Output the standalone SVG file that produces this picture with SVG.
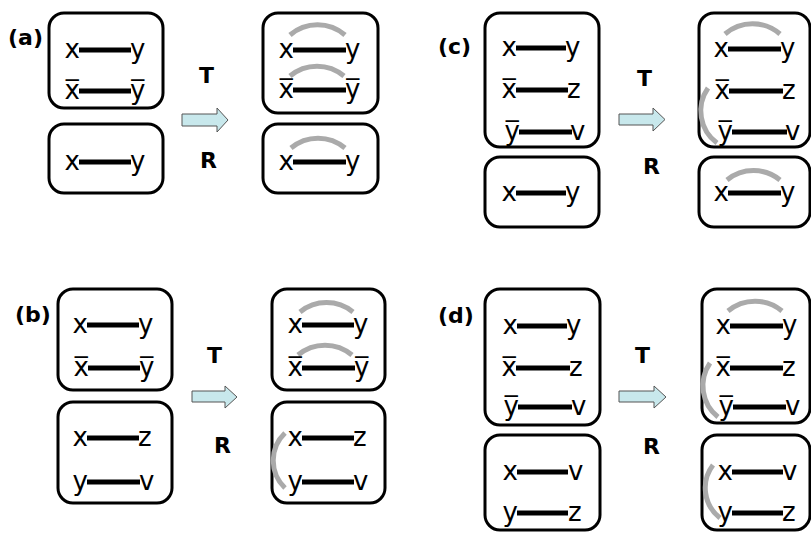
<svg xmlns="http://www.w3.org/2000/svg" width="811" height="533" viewBox="0 0 811 533">
<style>
.box{fill:none;stroke:#000;stroke-width:3}
.bd{stroke:#000;stroke-width:5}
.arc{fill:none;stroke:#aaa;stroke-width:5}
text{font-family:"DejaVu Sans",Verdana,sans-serif}
.t{font-size:26px}
.l{text-anchor:end}
.lab{font-size:22px;font-weight:bold}
.op{font-size:22px;font-weight:bold}
.arrow{fill:#c8e8ec;stroke:#555;stroke-width:1}
</style>
<rect width="811" height="533" fill="#fff"/>
<g id="labels">
<text class="lab" x="8" y="45">(a)</text>
<text class="lab" x="438" y="54">(c)</text>
<text class="lab" x="15" y="322">(b)</text>
<text class="lab" x="438" y="323">(d)</text>
<text class="op" x="199" y="83">T</text>
<text class="op" x="200" y="168">R</text>
<text class="op" x="637" y="86">T</text>
<text class="op" x="643" y="174">R</text>
<text class="op" x="207" y="363">T</text>
<text class="op" x="214" y="453">R</text>
<text class="op" x="635" y="363">T</text>
<text class="op" x="643" y="454">R</text>
</g>
<g id="connectors">
<polygon class="arrow" points="182,114 217,114 217,108 228,120 217,132 217,126 182,126"/>
<polygon class="arrow" points="619,114 653,114 653,108 665,119.5 653,131 653,125 619,125"/>
<polygon class="arrow" points="192,391 225,391 225,386 237,397 225,408 225,402 192,402"/>
<polygon class="arrow" points="619,391 654,391 654,386 666,397 654,408 654,402 619,402"/>
</g>
<g id="a1">
<rect class="box" x="49" y="13" width="114" height="95" rx="15"/>
<text class="t l" x="80" y="58">x</text><line class="bd" x1="79" y1="50" x2="131" y2="50"/><text class="t" x="130" y="58">y</text>
<text class="t l" x="80" y="99">x̅</text><line class="bd" x1="79" y1="91" x2="131" y2="91"/><text class="t" x="130" y="99">y̅</text>
</g>
<g id="a2">
<rect class="box" x="49" y="124" width="114" height="69" rx="15"/>
<text class="t l" x="80" y="170">x</text><line class="bd" x1="79" y1="162" x2="131" y2="162"/><text class="t" x="130" y="170">y</text>
</g>
<g id="a3">
<rect class="box" x="263" y="13" width="115" height="100" rx="15"/>
<path class="arc" d="M290,35 A42,42 0 0 1 345,35"/>
<path class="arc" d="M290,76 A42,42 0 0 1 344,76"/>
<text class="t l" x="294" y="58">x</text><line class="bd" x1="293" y1="50" x2="346" y2="50"/><text class="t" x="345" y="58">y</text>
<text class="t l" x="294" y="98">x̅</text><line class="bd" x1="293" y1="90" x2="346" y2="90"/><text class="t" x="345" y="98">y̅</text>
</g>
<g id="a4">
<rect class="box" x="263" y="124" width="115" height="69" rx="15"/>
<path class="arc" d="M291,148 A42,42 0 0 1 345,148"/>
<text class="t l" x="294" y="170">x</text><line class="bd" x1="293" y1="162" x2="346" y2="162"/><text class="t" x="345" y="170">y</text>
</g>
<g id="c1">
<rect class="box" x="485" y="13" width="114" height="134" rx="15"/>
<text class="t l" x="517" y="56">x</text><line class="bd" x1="516" y1="48" x2="566" y2="48"/><text class="t" x="565" y="56">y</text>
<text class="t l" x="517" y="98">x̅</text><line class="bd" x1="516" y1="90" x2="568" y2="90"/><text class="t" x="567" y="98">z</text>
<text class="t l" x="520" y="140">y̅</text><line class="bd" x1="519" y1="132" x2="572" y2="132"/><text class="t" x="570" y="140">v</text>
</g>
<g id="c2">
<rect class="box" x="485" y="157" width="114" height="70" rx="15"/>
<text class="t l" x="517" y="201">x</text><line class="bd" x1="516" y1="193" x2="566" y2="193"/><text class="t" x="565" y="201">y</text>
</g>
<g id="c3">
<rect class="box" x="699" y="13" width="111" height="134" rx="15"/>
<path class="arc" d="M725,34 A42,42 0 0 1 780,34"/>
<path class="arc" d="M708,88 A40,40 0 0 0 717,143"/>
<text class="t l" x="729" y="57">x</text><line class="bd" x1="728" y1="49" x2="781" y2="49"/><text class="t" x="780" y="57">y</text>
<text class="t l" x="730" y="99">x̅</text><line class="bd" x1="729" y1="91" x2="783" y2="91"/><text class="t" x="782" y="99">z</text>
<text class="t l" x="733" y="140">y̅</text><line class="bd" x1="732" y1="132" x2="787" y2="132"/><text class="t" x="785" y="140">v</text>
</g>
<g id="c4">
<rect class="box" x="699" y="157" width="111" height="70" rx="15"/>
<path class="arc" d="M727,180 A42,42 0 0 1 780,180"/>
<text class="t l" x="729" y="201">x</text><line class="bd" x1="728" y1="193" x2="781" y2="193"/><text class="t" x="780" y="201">y</text>
</g>
<g id="b1">
<rect class="box" x="58" y="289" width="114" height="101" rx="15"/>
<text class="t l" x="88" y="333">x</text><line class="bd" x1="87" y1="325" x2="139" y2="325"/><text class="t" x="138" y="333">y</text>
<text class="t l" x="89" y="376">x̅</text><line class="bd" x1="88" y1="368" x2="140" y2="368"/><text class="t" x="139" y="376">y̅</text>
</g>
<g id="b2">
<rect class="box" x="58" y="402" width="114" height="101" rx="15"/>
<text class="t l" x="88" y="446">x</text><line class="bd" x1="87" y1="438" x2="139" y2="438"/><text class="t" x="138" y="446">z</text>
<text class="t l" x="88" y="490">y</text><line class="bd" x1="87" y1="482" x2="140" y2="482"/><text class="t" x="139" y="490">v</text>
</g>
<g id="b3">
<rect class="box" x="272" y="289" width="113" height="101" rx="15"/>
<path class="arc" d="M300,312 A42,42 0 0 1 353,312"/>
<path class="arc" d="M298,355 A42,42 0 0 1 352,355"/>
<text class="t l" x="303" y="333">x</text><line class="bd" x1="302" y1="325" x2="354" y2="325"/><text class="t" x="353" y="333">y</text>
<text class="t l" x="303" y="376">x̅</text><line class="bd" x1="302" y1="368" x2="355" y2="368"/><text class="t" x="354" y="376">y̅</text>
</g>
<g id="b4">
<rect class="box" x="272" y="402" width="113" height="101" rx="15"/>
<path class="arc" d="M285,433 A38,38 0 0 0 285,488"/>
<text class="t l" x="303" y="446">x</text><line class="bd" x1="302" y1="438" x2="354" y2="438"/><text class="t" x="353" y="446">z</text>
<text class="t l" x="303" y="490">y</text><line class="bd" x1="302" y1="482" x2="354" y2="482"/><text class="t" x="353" y="490">v</text>
</g>
<g id="d1">
<rect class="box" x="485" y="289" width="115" height="136" rx="15"/>
<text class="t l" x="518" y="334">x</text><line class="bd" x1="517" y1="326" x2="567" y2="326"/><text class="t" x="566" y="334">y</text>
<text class="t l" x="517" y="376">x̅</text><line class="bd" x1="516" y1="368" x2="570" y2="368"/><text class="t" x="569" y="376">z</text>
<text class="t l" x="519" y="415">y̅</text><line class="bd" x1="518" y1="407" x2="572" y2="407"/><text class="t" x="571" y="415">v</text>
</g>
<g id="d2">
<rect class="box" x="485" y="435" width="115" height="95" rx="15"/>
<text class="t l" x="518" y="480">x</text><line class="bd" x1="517" y1="472" x2="568" y2="472"/><text class="t" x="568" y="480">v</text>
<text class="t l" x="518" y="521">y</text><line class="bd" x1="517" y1="513" x2="568" y2="513"/><text class="t" x="568" y="521">z</text>
</g>
<g id="d3">
<rect class="box" x="702" y="289" width="108" height="134" rx="15"/>
<path class="arc" d="M728,311 A42,42 0 0 1 782,311"/>
<path class="arc" d="M710,363 A40,40 0 0 0 718,417"/>
<text class="t l" x="731" y="334">x</text><line class="bd" x1="730" y1="326" x2="783" y2="326"/><text class="t" x="782" y="334">y</text>
<text class="t l" x="731" y="376">x̅</text><line class="bd" x1="730" y1="368" x2="783" y2="368"/><text class="t" x="782" y="376">z</text>
<text class="t l" x="734" y="415">y̅</text><line class="bd" x1="733" y1="407" x2="786" y2="407"/><text class="t" x="785" y="415">v</text>
</g>
<g id="d4">
<rect class="box" x="702" y="435" width="108" height="95" rx="15"/>
<path class="arc" d="M713,465 A38,38 0 0 0 720,518"/>
<text class="t l" x="733" y="480">x</text><line class="bd" x1="732" y1="472" x2="783" y2="472"/><text class="t" x="782" y="480">v</text>
<text class="t l" x="733" y="521">y</text><line class="bd" x1="732" y1="513" x2="783" y2="513"/><text class="t" x="782" y="521">z</text>
</g>
</svg>
